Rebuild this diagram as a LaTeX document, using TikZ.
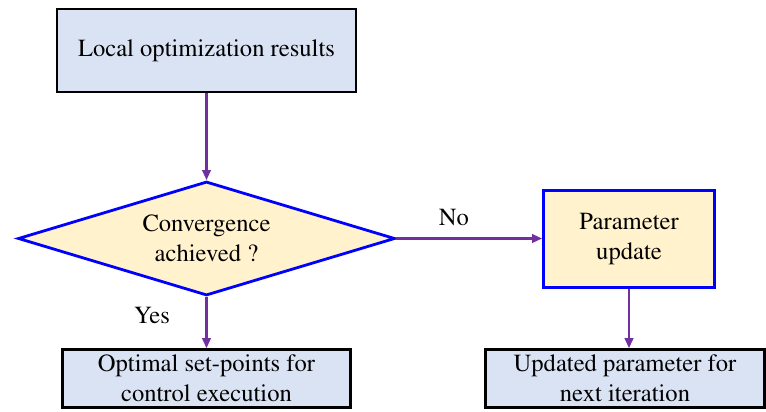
\documentclass[tikz,border=0pt]{standalone}
\usepackage[T1]{fontenc}
\usepackage{times}
\usetikzlibrary{shapes.geometric,arrows.meta}
\definecolor{boxblue}{HTML}{DAE3F3}
\definecolor{boxyellow}{HTML}{FFF2CC}
\definecolor{linkpurple}{HTML}{7030A0}
\definecolor{edgeblue}{HTML}{0000FF}
\tikzset{
  every node/.style={font=\rmfamily\fontsize{24.6}{29.5}\selectfont, text=black, inner sep=0pt, align=center},
  resultbox/.style={draw=black, line width=2.6pt, fill=boxblue, rectangle},
  procbox/.style={draw=edgeblue, line width=2.8pt, fill=boxyellow, rectangle},
  decision/.style={draw=edgeblue, line width=2.8pt, fill=boxyellow, diamond, aspect=3.3},
  link/.style={draw=linkpurple, line width=2.2pt, -{Triangle[length=10pt,width=8.5pt]}},
}
\begin{document}
\begin{tikzpicture}[x=1pt,y=-1pt]
  \useasboundingbox (0,0) rectangle (766,412);

  \node[resultbox, minimum width=299pt, minimum height=83pt] (local) at (206.5,50.5) {Local optimization results};
  \node[decision, minimum width=377pt, minimum height=114pt] (conv) at (206.5,238.5) {Convergence\\achieved ?};
  \node[procbox, minimum width=171pt, minimum height=97pt] (param) at (629,239) {Parameter\\update};
  \node[resultbox, minimum width=288pt, minimum height=58pt] (setpts) at (206.5,378.5) {Optimal set-points for\\control execution};
  \node[resultbox, minimum width=279pt, minimum height=58pt] (newpar) at (625,378.5) {Updated parameter for\\next iteration};

  \draw[link] (local.south) -- (conv.north);
  \draw[link] (conv.east) -- (conv.east -| param.west);
  \draw[link] (conv.south) -- (setpts.north);
  \draw[link] (param.south) -- (param.south |- newpar.north);

  \node (no) at (454,218) {No};
  \node (yes) at (152,316) {Yes};
\end{tikzpicture}
\end{document}
